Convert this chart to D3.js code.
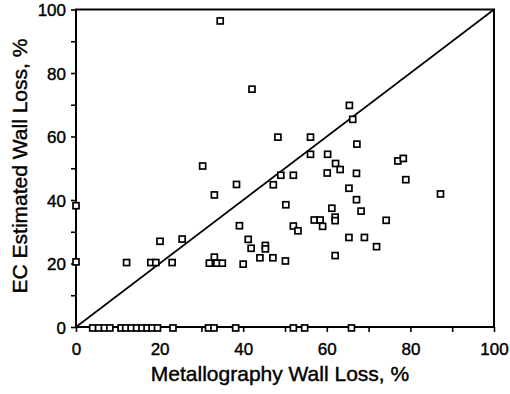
<!DOCTYPE html>
<html><head><meta charset="utf-8">
<script src="https://cdn.jsdelivr.net/npm/d3@7"></script>
<style>body{margin:0;background:#fff}svg{display:block}text{font-family:"Liberation Sans",Arial,Helvetica,sans-serif;fill:#000}</style>
</head><body>
<script>
// Data
const metallography = [0,0,34.5,42.1,30.3,48.3,56.1,65.4,66.2,67.2,56.1,60.2,62.1,63.2,60.1,67.1,77.0,78.3,78.9,87.2,49.0,52.0,38.4,47.2,33.1,65.3,67.1,50.2,61.2,68.2,62.0,62.0,57.0,58.4,59.0,74.2,52.0,53.1,39.1,20.1,25.4,41.2,41.9,45.3,45.3,65.3,69.0,71.9,62.0,44.0,47.1,33.1,50.1,12.1,17.9,19.1,23.0,31.9,33.7,35.0,40.0,
  4.0,5.4,6.8,8.1,10.8,11.9,13.2,14.5,15.8,17.0,18.2,19.5,23.2,31.7,33.0,38.2,52.0,54.7,65.9];
const ecEstimated = [38.2,20.5,96.4,74.9,50.7,59.8,59.8,69.8,65.4,57.6,54.4,54.4,51.5,49.6,48.5,48.4,52.3,53.1,46.4,41.9,47.8,47.8,44.9,44.8,41.6,43.7,40.1,38.5,37.4,36.5,34.6,33.5,33.7,33.7,31.7,33.6,31.8,30.3,31.9,27.0,27.7,27.6,24.8,25.7,24.6,28.2,28.2,25.3,22.5,21.8,21.8,22.0,20.8,20.3,20.3,20.3,20.3,20.1,20.1,20.1,19.8,
  -0.3,-0.3,-0.3,-0.3,-0.3,-0.3,-0.3,-0.3,-0.3,-0.3,-0.3,-0.3,-0.3,-0.3,-0.3,-0.3,-0.3,-0.3,-0.3];
const xTickLabels = [0,20,40,60,80,100];
const yTickLabels = [0,20,40,60,80,100];
const xTitle = "Metallography Wall Loss, %";
const yTitle = "EC Estimated Wall Loss, %";

const W = 510, H = 394;
const m = {left:76, right:16, top:9.5, bottom:67};
const svg = d3.select("body").append("svg").attr("width",W).attr("height",H);
const x = d3.scaleLinear().domain([0,100]).range([m.left, W-m.right]);
const y = d3.scaleLinear().domain([0,100]).range([H-m.bottom, m.top]);

// frame
svg.append("rect").attr("x",x(0)).attr("y",y(100)).attr("width",x(100)-x(0)).attr("height",y(0)-y(100))
  .attr("fill","none").attr("stroke","#000").attr("stroke-width",2);

// axes
const xAxis = d3.axisBottom(x).tickValues(d3.range(0,101,10)).tickSize(5)
  .tickFormat(d => xTickLabels.includes(d) ? d : "");
const gx = svg.append("g").attr("transform",`translate(0,${y(0)})`).call(xAxis);
const yAxis = d3.axisLeft(y).tickValues(d3.range(0,101,10)).tickSize(5).tickPadding(5)
  .tickFormat(d => yTickLabels.includes(d) ? d : "");
const gy = svg.append("g").attr("transform",`translate(${x(0)},0)`).call(yAxis);
[gx,gy].forEach(g=>{
  g.select(".domain").remove();
  g.selectAll("line").attr("stroke","#000").attr("stroke-width",1.6);
  g.selectAll("text").attr("font-size",17).attr("font-family","Liberation Sans, Arial, sans-serif").attr("fill","#000")
    .attr("stroke","#000").attr("stroke-width",0.4);
});
gx.selectAll("text").attr("dy","1.2em");
gy.selectAll("text").attr("dy","0.36em");

// diagonal
svg.append("line").attr("x1",x(0)).attr("y1",y(0)).attr("x2",x(100)).attr("y2",y(100))
  .attr("stroke","#000").attr("stroke-width",1.6);

// points
const pts = metallography.map((v,i)=>({mx:v, ec:ecEstimated[i]}));
svg.append("g").selectAll("rect").data(pts).join("rect")
  .attr("x",d=>x(d.mx)-3).attr("y",d=>y(d.ec)-3).attr("width",6).attr("height",6)
  .attr("fill","#fff").attr("stroke","#000").attr("stroke-width",1.7);

// titles
svg.append("text").attr("x",280).attr("y",381).attr("text-anchor","middle")
  .attr("font-size",21).attr("stroke","#000").attr("stroke-width",0.4).text(xTitle);
svg.append("text").attr("transform",`translate(27,166) rotate(-90)`).attr("text-anchor","middle")
  .attr("font-size",21).attr("stroke","#000").attr("stroke-width",0.4).text(yTitle);
</script>
</body></html>
